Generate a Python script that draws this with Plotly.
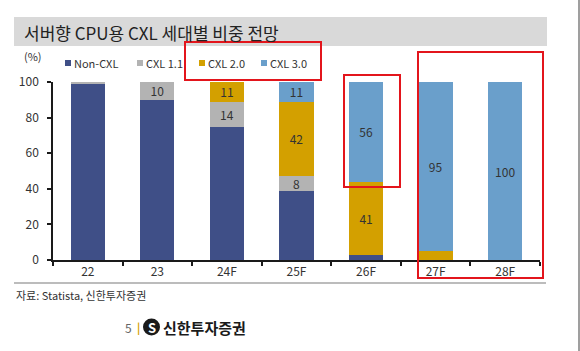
import plotly.graph_objects as go

categories = ["22", "23", "24F", "25F", "26F", "27F", "28F"]
series_names = ["Non-CXL", "CXL 1.1", "CXL 2.0", "CXL 3.0"]
non_cxl = [99, 90, 75, 39, 3, 0, 0]
cxl_11 = [1, 10, 14, 8, 0, 0, 0]
cxl_20 = [0, 0, 11, 42, 41, 5, 0]
cxl_30 = [0, 0, 0, 11, 56, 95, 100]
label_non_cxl = ["", "", "", "", "", "", ""]
label_cxl_11 = ["", "10", "14", "8", "", "", ""]
label_cxl_20 = ["", "", "11", "42", "41", "", ""]
label_cxl_30 = ["", "", "", "11", "56", "95", "100"]
y_ticks = [0, 20, 40, 60, 80, 100]

colors = ["#3F4F87", "#B3B3B3", "#D3A000", "#6A9FCB"]
FONT = "Noto Sans CJK KR"

W, H = 580, 351
L, R, T, B = 53, 540, 82, 260


def px(x):
    return (x - L) / (R - L)


def py(y):
    return (B - y) / (B - T)


fig = go.Figure()
for name, vals, labels, col in zip(series_names,
                                   [non_cxl, cxl_11, cxl_20, cxl_30],
                                   [label_non_cxl, label_cxl_11, label_cxl_20, label_cxl_30],
                                   colors):
    fig.add_trace(go.Bar(
        x=categories, y=vals, name=name, marker=dict(color=col, line=dict(width=0)),
        text=labels, texttemplate="%{text}", textposition="inside",
        insidetextanchor="middle", textangle=0, constraintext="none",
        textfont=dict(family=FONT, size=12, color="#333333"),
        showlegend=False, hoverinfo="x+y+name",
    ))

shapes = []
annotations = []

# title bar
shapes.append(dict(type="rect", xref="paper", yref="paper", x0=px(14), x1=px(547), y0=py(17), y1=py(46),
                   fillcolor="#D9D9D9", line=dict(width=0), layer="below"))
annotations.append(dict(xref="paper", yref="paper", x=px(22), y=py(32), xanchor="left", yanchor="middle",
                        text="서버향 CPU용 CXL 세대별 비중 전망", showarrow=False,
                        font=dict(family=FONT, size=17, color="#222222")))
# (%) unit
annotations.append(dict(xref="paper", yref="paper", x=px(22), y=py(56), xanchor="left", yanchor="middle",
                        text="(%)", showarrow=False, font=dict(family=FONT, size=11, color="#333333")))
# legend
legend_x = [65, 137, 199, 261]
for lx, name, col in zip(legend_x, series_names, colors):
    shapes.append(dict(type="rect", xref="paper", yref="paper", x0=px(lx), x1=px(lx + 6),
                       y0=py(60), y1=py(66), fillcolor=col, line=dict(width=0)))
    annotations.append(dict(xref="paper", yref="paper", x=px(lx + 7), y=py(63), xanchor="left", yanchor="middle",
                            text=name, showarrow=False, font=dict(family=FONT, size=11, color="#333333")))

# bottom separator line
shapes.append(dict(type="line", xref="paper", yref="paper", x0=px(14), x1=px(546), y0=py(283), y1=py(283),
                   line=dict(color="#A6A6A6", width=1.5)))
# right border line
shapes.append(dict(type="line", xref="paper", yref="paper", x0=px(579), x1=px(579), y0=py(0), y1=py(351),
                   line=dict(color="#7F7F7F", width=1.5)))
# red highlight boxes
red = "#E3151C"
for (x0, y0, x1, y1) in [(185, 42, 321, 80), (344, 75, 400, 187), (418, 52, 543, 278)]:
    shapes.append(dict(type="rect", xref="paper", yref="paper", x0=px(x0), x1=px(x1), y0=py(y0), y1=py(y1),
                       line=dict(color=red, width=2), fillcolor="rgba(0,0,0,0)"))

# source
annotations.append(dict(xref="paper", yref="paper", x=px(14), y=py(295), xanchor="left", yanchor="middle",
                        text="자료: Statista, 신한투자증권", showarrow=False,
                        font=dict(family=FONT, size=11, color="#333333")))
# footer
annotations.append(dict(xref="paper", yref="paper", x=px(123), y=py(327), xanchor="left", yanchor="middle",
                        text="5", showarrow=False, font=dict(family=FONT, size=12, color="#666666")))
annotations.append(dict(xref="paper", yref="paper", x=px(138), y=py(327), xanchor="center", yanchor="middle",
                        text="<b>|</b>", showarrow=False, font=dict(family=FONT, size=11, color="#D3A000")))
shapes.append(dict(type="circle", xref="paper", yref="paper", x0=px(143), x1=px(160), y0=py(318.5), y1=py(335.5),
                   fillcolor="#1A1A1A", line=dict(width=0)))
annotations.append(dict(xref="paper", yref="paper", x=px(151.5), y=py(327), xanchor="center", yanchor="middle",
                        text="<b>S</b>", showarrow=False, font=dict(family=FONT, size=13, color="#FFFFFF")))
annotations.append(dict(xref="paper", yref="paper", x=px(161), y=py(327), xanchor="left", yanchor="middle",
                        text="<b>신한투자증권</b>", showarrow=False, font=dict(family=FONT, size=15, color="#1A1A1A")))

fig.update_layout(
    width=W, height=H,
    margin=dict(l=L, r=W - R, t=T, b=H - B, pad=0),
    barmode="stack", bargap=0.51,
    plot_bgcolor="white", paper_bgcolor="white",
    showlegend=False,
    uniformtext=dict(minsize=12, mode="show"),
    shapes=shapes, annotations=annotations,
    xaxis=dict(
        type="category", showgrid=False, showline=True, linecolor="#1A1A1A", linewidth=2,
        ticks="outside", tickson="boundaries", ticklen=4, tickcolor="#1A1A1A", tickwidth=1.5,
        tickfont=dict(family=FONT, size=12, color="#333333"), zeroline=False,
    ),
    yaxis=dict(
        range=[0, 100], tickvals=y_ticks, showgrid=False, showline=True, linecolor="#1A1A1A", linewidth=1.5,
        ticks="outside", ticklen=4, tickcolor="#1A1A1A", tickwidth=1.5, zeroline=False,
        tickfont=dict(family=FONT, size=12, color="#333333"), ticklabelstandoff=6,
    ),
)

fig.write_html("out.html")
